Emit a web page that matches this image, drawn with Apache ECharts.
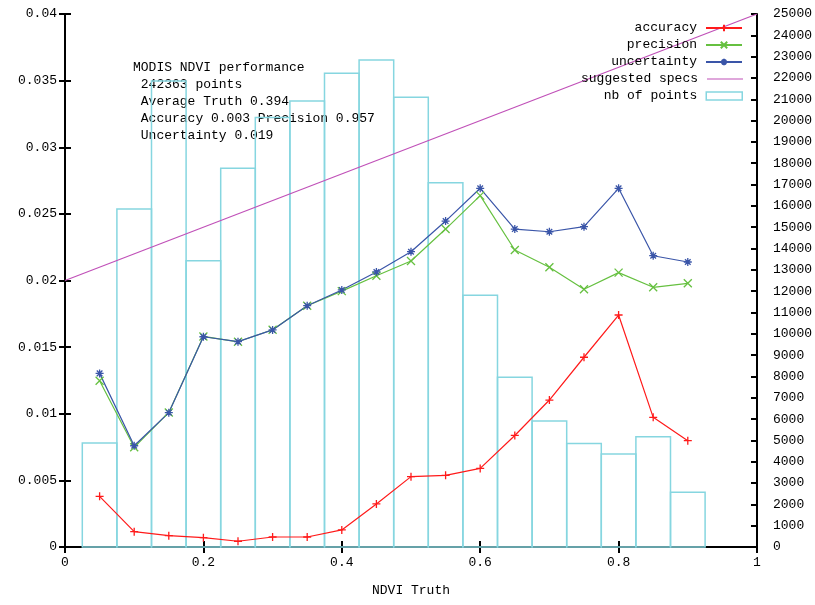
<!DOCTYPE html>
<html>
<head>
<meta charset="utf-8">
<script src="https://cdn.jsdelivr.net/npm/echarts@6/dist/echarts.min.js"></script>
<style>
  html, body { margin: 0; padding: 0; background: #ffffff; }
  #chart { width: 815px; height: 605px; }
</style>
</head>
<body>
<div id="chart"></div>
<script>
// NDVI truth bin centres
const ndviTruth = [0.05, 0.10, 0.15, 0.20, 0.25, 0.30, 0.35, 0.40, 0.45,
                   0.50, 0.55, 0.60, 0.65, 0.70, 0.75, 0.80, 0.85, 0.90];

// Per-bin statistics (left axis)
const accuracy    = [0.0038, 0.00115, 0.00085, 0.0007, 0.00043, 0.00075, 0.00075, 0.00128, 0.00323,
                     0.00528, 0.00538, 0.0059, 0.00837, 0.01103, 0.01424, 0.01741, 0.00973, 0.00798];
const precision   = [0.01248, 0.00748, 0.0101, 0.0158, 0.0154, 0.0163, 0.0181, 0.0192, 0.02036,
                     0.02146, 0.02386, 0.02637, 0.02229, 0.02099, 0.01934, 0.02059, 0.01949, 0.01979];
const uncertainty = [0.01303, 0.0076, 0.01008, 0.01578, 0.01541, 0.01629, 0.01811, 0.01929, 0.02064,
                     0.02216, 0.02446, 0.02692, 0.02386, 0.02366, 0.02404, 0.02692, 0.02186, 0.02139];

// Suggested specification line: end points (truth, value)
const specsTruth = [0, 1];
const specsValue = [0.02, 0.04];

// Number of points per bin (right axis)
const pointCounts = [4880, 15850, 21860, 13430, 17760, 20140, 20920, 22220, 22840,
                     21100, 17080, 11810, 7960, 5910, 4860, 4360, 5170, 2570];
const binWidth = 0.05;

// Summary text
const summaryLines = [
  'MODIS NDVI performance',
  ' 242363 points',
  ' Average Truth 0.394',
  ' Accuracy 0.003 Precision 0.957',
  ' Uncertainty 0.019'
];

// Series names
const seriesNames = ['accuracy', 'precision', 'uncertainty', 'suggested specs', 'nb of points'];

const FONT = '"Liberation Mono", "DejaVu Sans Mono", monospace';
const COLORS = {
  accuracy: '#ff1a1a',
  precision: '#66c040',
  uncertainty: '#3a55a8',
  specs: '#c050b8',
  points: '#86d6e0'
};

const plusPath = 'path://M0,5L10,5M5,0L5,10';
const crossPath = 'path://M1,1L9,9M1,9L9,1';
const starPath = 'path://M0,5L10,5M5,0L5,10M1.5,1.5L8.5,8.5M1.5,8.5L8.5,1.5';

function pairs(xs, ys) { return xs.map((x, i) => [x, ys[i]]); }

function lineSeries(name, data, color, symbol) {
  return {
    name: name,
    type: 'line',
    xAxisIndex: 0,
    yAxisIndex: 0,
    data: data,
    symbol: symbol,
    symbolSize: 8,
    showSymbol: symbol !== 'none',
    lineStyle: { color: color, width: 1.2 },
    itemStyle: { color: color, borderColor: color, borderWidth: 1.3 },
    emphasis: { disabled: true },
    animation: false,
    z: 3
  };
}

function legendFor(rowCenter, item, iconHeight) {
  const h = 14;
  return {
    show: true,
    data: [item],
    orient: 'horizontal',
    align: 'right',
    right: 72,
    top: rowCenter - h / 2,
    padding: 0,
    itemWidth: 36,
    itemHeight: iconHeight || 8,
    selectedMode: false,
    textStyle: { fontFamily: FONT, fontSize: 13, color: '#000', lineHeight: h, padding: [0, 4, 0, 0] }
  };
}

const chart = echarts.init(document.getElementById('chart'), null, { renderer: 'canvas' });

const axisLabelStyle = { fontFamily: FONT, fontSize: 13, color: '#000' };
const frameLine = { show: true, lineStyle: { color: '#000', width: 2 } };
const innerTick = { show: true, inside: true, length: 6, lineStyle: { color: '#000', width: 2 } };
const gridBox = { left: 65, right: 58, top: 14, bottom: 58, containLabel: false };

chart.setOption({
  backgroundColor: '#ffffff',
  animation: false,
  // grid 0 holds the data; grid 1 overlays it to draw the mirrored top/right ticks
  grid: [Object.assign({}, gridBox), Object.assign({}, gridBox)],
  xAxis: [
    {
      gridIndex: 0, type: 'value', position: 'bottom', min: 0, max: 1, interval: 0.2,
      name: 'NDVI Truth', nameLocation: 'middle', nameGap: 37,
      nameTextStyle: { fontFamily: FONT, fontSize: 13, color: '#000' },
      axisLine: frameLine, axisTick: innerTick,
      axisLabel: Object.assign({ margin: 9 }, axisLabelStyle),
      splitLine: { show: false }
    },
    {
      gridIndex: 1, type: 'value', position: 'top', min: 0, max: 1, interval: 0.2,
      axisLine: frameLine, axisTick: innerTick,
      axisLabel: { show: false }, splitLine: { show: false }
    }
  ],
  yAxis: [
    {
      gridIndex: 0, type: 'value', position: 'left', min: 0, max: 0.04, interval: 0.005,
      axisLine: frameLine, axisTick: innerTick,
      axisLabel: Object.assign({ margin: 8, formatter: v => String(+v.toFixed(3)) }, axisLabelStyle),
      splitLine: { show: false }
    },
    {
      gridIndex: 0, type: 'value', position: 'right', min: 0, max: 25000, interval: 1000,
      axisLine: frameLine, axisTick: innerTick,
      axisLabel: Object.assign({ margin: 16, formatter: v => String(v) }, axisLabelStyle),
      splitLine: { show: false }
    },
    {
      gridIndex: 1, type: 'value', position: 'right', min: 0, max: 0.04, interval: 0.005,
      axisLine: { show: false }, axisTick: innerTick,
      axisLabel: { show: false }, splitLine: { show: false }
    }
  ],
  legend: [
    legendFor(28, { name: seriesNames[0] }),
    legendFor(45, { name: seriesNames[1] }),
    legendFor(62, { name: seriesNames[2] }),
    legendFor(79, {
      name: seriesNames[3], icon: 'rect',
      itemStyle: { color: COLORS.specs, borderWidth: 0 }
    }, 1.2),
    legendFor(96, {
      name: seriesNames[4], icon: 'rect',
      itemStyle: { color: '#ffffff', borderColor: COLORS.points, borderWidth: 1.5 }
    }, 8)
  ],
  graphic: [
    {
      type: 'text', left: 133, top: 59, z: 1,
      style: {
        text: summaryLines.join('\n'),
        font: '13px ' + FONT,
        fill: '#000',
        lineHeight: 17
      }
    }
  ],
  series: [
    {
      name: seriesNames[4],
      type: 'custom',
      xAxisIndex: 0,
      yAxisIndex: 1,
      data: pairs(ndviTruth, pointCounts),
      encode: { x: 0, y: 1 },
      itemStyle: { color: COLORS.points },
      renderItem: function (params, api) {
        const x = api.value(0);
        const n = api.value(1);
        const p0 = api.coord([x - binWidth / 2, 0]);
        const p1 = api.coord([x + binWidth / 2, n]);
        return {
          type: 'rect',
          shape: { x: p0[0], y: p1[1], width: p1[0] - p0[0], height: p0[1] - p1[1] },
          style: { fill: null, stroke: COLORS.points, lineWidth: 1.5 }
        };
      },
      z: 1
    },
    Object.assign(lineSeries(seriesNames[3], pairs(specsTruth, specsValue), COLORS.specs, 'none'), { z: 2 }),
    lineSeries(seriesNames[0], pairs(ndviTruth, accuracy), COLORS.accuracy, plusPath),
    lineSeries(seriesNames[1], pairs(ndviTruth, precision), COLORS.precision, crossPath),
    lineSeries(seriesNames[2], pairs(ndviTruth, uncertainty), COLORS.uncertainty, starPath)
  ]
});
</script>
</body>
</html>
